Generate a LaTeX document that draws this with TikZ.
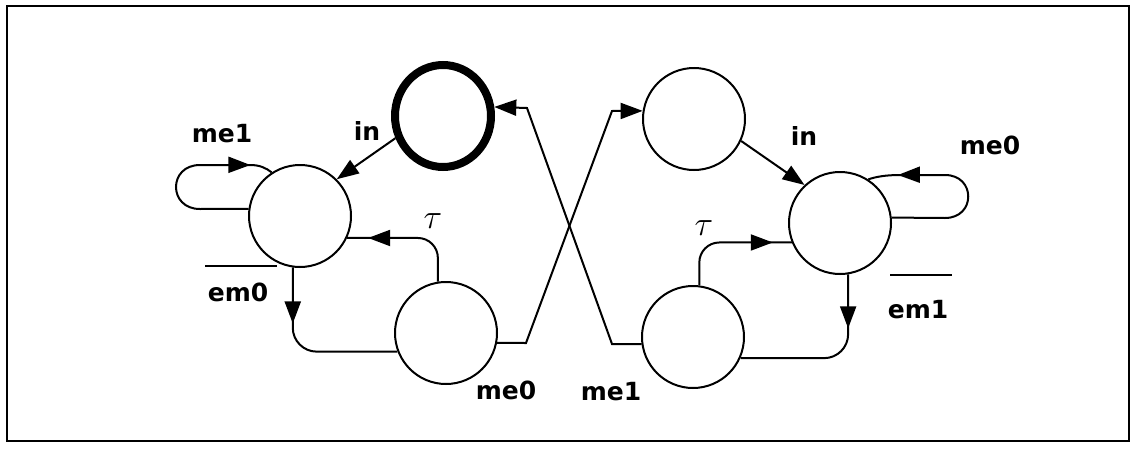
\documentclass[tikz,border=0pt]{standalone}
\usepackage{fontspec}
\setmainfont{DejaVu Sans}
\usetikzlibrary{arrows.meta,shapes.geometric,decorations.markings,calc}
\begin{document}
\begin{tikzpicture}[x=0.5pt,y=-0.5pt,
  state/.style={circle,draw,line width=1pt,minimum size=51pt,inner sep=0pt},
  initstate/.style={ellipse,draw,line width=4pt,minimum width=48pt,minimum height=51pt,inner sep=0pt},
  conn/.style={line width=1pt},
  tipend/.style={-{Triangle[length=11pt,width=8pt]}},
  midarrow/.style={decoration={markings,mark=at position #1 with {\arrow{Triangle[length=11pt,width=8pt]}}},postaction={decorate}},
  lbl/.style={font=\fontsize{12.5}{14}\selectfont\bfseries,inner sep=0pt},
  taul/.style={font=\fontsize{16}{16}\selectfont,inner sep=0pt}]
\useasboundingbox (0,0) rectangle (1135,455);
\draw[line width=1pt] (7,6) rectangle (1129,441);

% states
\node[state] (A) at (300,216) {};
\node[initstate] (B) at (443,116) {};
\node[state] (C) at (446,333) {};
\node[state] (D) at (694,119) {};
\node[state] (E) at (840,223) {};
\node[state] (F) at (693,337) {};

% labels
\node[lbl] (lme1a) at (222,134) {me1};
\node[lbl] (lina) at (367,131) {in};
\node[taul] (taua) at (433,221) {$\tau$};
\node[lbl] (em0) at (238,292) {em0};
\node[lbl] (lme0a) at (506,390) {me0};
\node[lbl] (lme1b) at (611,392) {me1};
\node[lbl] (linb) at (804,136) {in};
\node[taul] (taub) at (704,228) {$\tau$};
\node[lbl] (em1) at (918,310) {em1};
\node[lbl] (lme0b) at (990,145) {me0};
\draw[conn] ($(em0.center)+(-33,-26)$) -- ++(72,0);
\draw[conn] ($(em1.center)+(-28,-35)$) -- ++(62,0);

% left loop me1
\draw[conn,midarrow=-11.5pt] (A.172) -- (200,209) .. controls (168,209) and (168,165) .. (200,165)
   -- (250,165) .. controls (260,165) and (266,168) .. (A.123);
% in (left)
\draw[conn,tipend] (B.205) -- (A.45);
% tau left
\draw[conn,rounded corners=10pt,midarrow=-10.5pt] (C.99) |- (A.335);
% em0
\draw[conn,rounded corners=12pt,midarrow=28pt] (A.262) |- (C.201);
% crossing
\draw[conn,tipend] (C.349) -- (526,343) -- (612,111) -- (D.171);
\draw[conn,tipend] (F.188) -- (612,344) -- (527,108) -- (B.10);
% in (right)
\draw[conn,tipend] (D.335) -- (E.133);
% right loop me0
\draw[conn,midarrow=-15pt] (E.6) -- (945,218) .. controls (976,218) and (976,175) .. (945,175)
   -- (900,175) .. controls (885,175) and (875,177) .. (E.57);
% tau right
\draw[conn,rounded corners=10pt,midarrow=-9.5pt] (F.83) |- (E.202);
% em1
\draw[conn,rounded corners=12pt,midarrow=27pt] (E.279) |- (F.336);
\end{tikzpicture}
\end{document}
